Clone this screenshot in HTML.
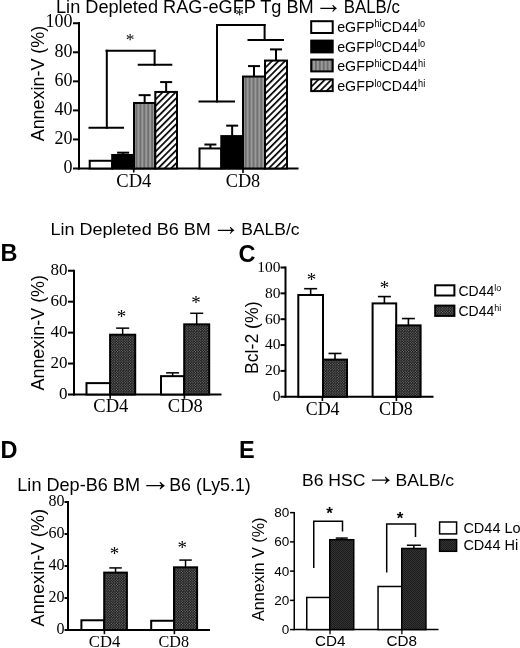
<!DOCTYPE html>
<html lang="en"><head><meta charset="utf-8"><title>Figure</title>
<style>
html,body{margin:0;padding:0;background:#fff;}
body{width:520px;height:648px;overflow:hidden;}
svg{display:block;}
.fs{font-family:"Liberation Sans", Arial, Helvetica, sans-serif;}
.ft{font-family:"Liberation Serif", "Times New Roman", Times, serif;}
</style></head><body>
<svg width="520" height="648" viewBox="0 0 520 648">
<defs>
<pattern id="pv" width="3.9" height="4" patternUnits="userSpaceOnUse"><rect width="3.9" height="4" fill="#707070"/><rect x="1.2" width="1.5" height="4" fill="#a6a6a6"/></pattern>
<pattern id="pd" width="4.6" height="4.6" patternUnits="userSpaceOnUse" patternTransform="rotate(-45)"><rect width="4.6" height="4.6" fill="#fff"/><rect width="4.6" height="1.7" fill="#000"/></pattern>
<pattern id="pc" width="2.6" height="2.6" patternUnits="userSpaceOnUse"><rect width="2.6" height="2.6" fill="#0a0a0a"/><circle cx="0.65" cy="0.65" r="0.58" fill="#a0a0a0"/><circle cx="1.95" cy="1.95" r="0.58" fill="#a0a0a0"/></pattern>
<pattern id="pe" width="2" height="2" patternUnits="userSpaceOnUse"><rect width="2" height="2" fill="#333"/><rect width="1" height="1" fill="#1c1c1c"/><rect x="1" y="1" width="1" height="1" fill="#1c1c1c"/></pattern>
</defs>
<rect width="520" height="648" fill="#fff"/>
<text class="fs" x="56.00" y="13.00" font-size="17.5" textLength="257.75" lengthAdjust="spacingAndGlyphs" fill="#000">Lin Depleted RAG-eGFP Tg BM</text>
<text class="fs" x="314.81" y="13.13" font-size="27.9" fill="#000">→</text>
<text class="fs" x="343.75" y="13.00" font-size="17.5" textLength="56.25" lengthAdjust="spacingAndGlyphs" fill="#000">BALB/c</text>
<line x1="79.00" y1="22.00" x2="79.00" y2="169.50" stroke="#000" stroke-width="2" stroke-linecap="butt"/>
<line x1="78.00" y1="168.50" x2="298.50" y2="168.50" stroke="#000" stroke-width="2" stroke-linecap="butt"/>
<line x1="73.00" y1="23.25" x2="79.00" y2="23.25" stroke="#000" stroke-width="2" stroke-linecap="butt"/>
<text class="ft" x="72.50" y="27.45" font-size="18" text-anchor="end" fill="#000">100</text>
<line x1="73.00" y1="52.30" x2="79.00" y2="52.30" stroke="#000" stroke-width="2" stroke-linecap="butt"/>
<text class="ft" x="72.50" y="56.50" font-size="18" text-anchor="end" fill="#000">80</text>
<line x1="73.00" y1="81.35" x2="79.00" y2="81.35" stroke="#000" stroke-width="2" stroke-linecap="butt"/>
<text class="ft" x="72.50" y="85.55" font-size="18" text-anchor="end" fill="#000">60</text>
<line x1="73.00" y1="110.40" x2="79.00" y2="110.40" stroke="#000" stroke-width="2" stroke-linecap="butt"/>
<text class="ft" x="72.50" y="114.60" font-size="18" text-anchor="end" fill="#000">40</text>
<line x1="73.00" y1="139.45" x2="79.00" y2="139.45" stroke="#000" stroke-width="2" stroke-linecap="butt"/>
<text class="ft" x="72.50" y="143.65" font-size="18" text-anchor="end" fill="#000">20</text>
<line x1="73.00" y1="168.50" x2="79.00" y2="168.50" stroke="#000" stroke-width="2" stroke-linecap="butt"/>
<text class="ft" x="72.50" y="172.70" font-size="18" text-anchor="end" fill="#000">0</text>
<text class="fs" x="43.80" y="141.30" font-size="18.5" transform="rotate(-90 43.80 141.30)" textLength="115.50" lengthAdjust="spacingAndGlyphs" fill="#000">Annexin-V (%)</text>
<line x1="123.10" y1="154.97" x2="123.10" y2="152.67" stroke="#000" stroke-width="2" stroke-linecap="butt"/>
<line x1="117.10" y1="152.67" x2="129.10" y2="152.67" stroke="#000" stroke-width="2" stroke-linecap="butt"/>
<line x1="144.65" y1="102.98" x2="144.65" y2="95.15" stroke="#000" stroke-width="2" stroke-linecap="butt"/>
<line x1="138.65" y1="95.15" x2="150.65" y2="95.15" stroke="#000" stroke-width="2" stroke-linecap="butt"/>
<line x1="166.15" y1="91.94" x2="166.15" y2="82.08" stroke="#000" stroke-width="2" stroke-linecap="butt"/>
<line x1="160.15" y1="82.08" x2="172.15" y2="82.08" stroke="#000" stroke-width="2" stroke-linecap="butt"/>
<rect x="89.70" y="160.78" width="22.50" height="7.72" fill="#fff" stroke="#000" stroke-width="2"/>
<rect x="112.20" y="154.97" width="21.80" height="13.53" fill="#000" stroke="#000" stroke-width="2"/>
<rect x="134.00" y="102.98" width="21.30" height="65.52" fill="url(#pv)" stroke="#000" stroke-width="2"/>
<rect x="155.30" y="91.94" width="21.70" height="76.56" fill="url(#pd)" stroke="#000" stroke-width="2"/>
<line x1="210.40" y1="148.44" x2="210.40" y2="144.53" stroke="#000" stroke-width="2" stroke-linecap="butt"/>
<line x1="204.40" y1="144.53" x2="216.40" y2="144.53" stroke="#000" stroke-width="2" stroke-linecap="butt"/>
<line x1="232.15" y1="136.09" x2="232.15" y2="125.65" stroke="#000" stroke-width="2" stroke-linecap="butt"/>
<line x1="226.15" y1="125.65" x2="238.15" y2="125.65" stroke="#000" stroke-width="2" stroke-linecap="butt"/>
<line x1="254.00" y1="76.54" x2="254.00" y2="66.10" stroke="#000" stroke-width="2" stroke-linecap="butt"/>
<line x1="248.00" y1="66.10" x2="260.00" y2="66.10" stroke="#000" stroke-width="2" stroke-linecap="butt"/>
<line x1="276.00" y1="60.56" x2="276.00" y2="49.40" stroke="#000" stroke-width="2" stroke-linecap="butt"/>
<line x1="270.00" y1="49.40" x2="282.00" y2="49.40" stroke="#000" stroke-width="2" stroke-linecap="butt"/>
<rect x="199.50" y="148.44" width="21.80" height="20.06" fill="#fff" stroke="#000" stroke-width="2"/>
<rect x="221.30" y="136.09" width="21.70" height="32.41" fill="#000" stroke="#000" stroke-width="2"/>
<rect x="243.00" y="76.54" width="22.00" height="91.96" fill="url(#pv)" stroke="#000" stroke-width="2"/>
<rect x="265.00" y="60.56" width="22.00" height="107.94" fill="url(#pd)" stroke="#000" stroke-width="2"/>
<line x1="88.50" y1="127.80" x2="124.00" y2="127.80" stroke="#000" stroke-width="2" stroke-linecap="butt"/>
<line x1="106.80" y1="128.80" x2="106.80" y2="49.80" stroke="#000" stroke-width="2" stroke-linecap="butt"/>
<line x1="133.70" y1="169.00" x2="133.70" y2="172.50" stroke="#000" stroke-width="1.6" stroke-linecap="butt"/>
<line x1="243.00" y1="169.00" x2="243.00" y2="173.00" stroke="#000" stroke-width="1.6" stroke-linecap="butt"/>
<line x1="105.50" y1="50.80" x2="155.60" y2="50.80" stroke="#000" stroke-width="2" stroke-linecap="butt"/>
<line x1="154.60" y1="49.80" x2="154.60" y2="65.80" stroke="#000" stroke-width="2" stroke-linecap="butt"/>
<line x1="137.70" y1="64.80" x2="172.30" y2="64.80" stroke="#000" stroke-width="2" stroke-linecap="butt"/>
<text class="ft" x="130.00" y="45.45" font-size="17.5" text-anchor="middle" fill="#000">*</text>
<line x1="198.50" y1="101.50" x2="235.00" y2="101.50" stroke="#000" stroke-width="2" stroke-linecap="butt"/>
<line x1="217.00" y1="102.50" x2="217.00" y2="24.00" stroke="#000" stroke-width="2" stroke-linecap="butt"/>
<line x1="216.00" y1="25.00" x2="265.60" y2="25.00" stroke="#000" stroke-width="2" stroke-linecap="butt"/>
<line x1="264.60" y1="24.00" x2="264.60" y2="41.00" stroke="#000" stroke-width="2" stroke-linecap="butt"/>
<line x1="247.50" y1="40.00" x2="284.00" y2="40.00" stroke="#000" stroke-width="2" stroke-linecap="butt"/>
<text class="ft" x="239.50" y="19.75" font-size="17.5" text-anchor="middle" fill="#000">*</text>
<text class="ft" x="116.30" y="186.80" font-size="18" textLength="35.00" lengthAdjust="spacingAndGlyphs" fill="#000">CD4</text>
<text class="ft" x="225.75" y="186.80" font-size="18" textLength="34.50" lengthAdjust="spacingAndGlyphs" fill="#000">CD8</text>
<rect x="311.2" y="21.20" width="21.5" height="11.8" fill="#fff" stroke="#000" stroke-width="2"/>
<text class="fs" x="337.20" y="32.10" font-size="15.5" textLength="88.00" lengthAdjust="spacingAndGlyphs" fill="#000">eGFP<tspan font-size="10" dy="-4.6">hi</tspan><tspan dy="4.6">CD44</tspan><tspan font-size="10" dy="-4.6">lo</tspan></text>
<rect x="311.2" y="40.60" width="21.5" height="11.8" fill="#000" stroke="#000" stroke-width="2"/>
<text class="fs" x="337.20" y="51.70" font-size="15.5" textLength="88.00" lengthAdjust="spacingAndGlyphs" fill="#000">eGFP<tspan font-size="10" dy="-4.6">lo</tspan><tspan dy="4.6">CD44</tspan><tspan font-size="10" dy="-4.6">lo</tspan></text>
<rect x="311.2" y="59.60" width="21.5" height="11.8" fill="url(#pv)" stroke="#000" stroke-width="2"/>
<text class="fs" x="337.20" y="71.40" font-size="15.5" textLength="88.00" lengthAdjust="spacingAndGlyphs" fill="#000">eGFP<tspan font-size="10" dy="-4.6">hi</tspan><tspan dy="4.6">CD44</tspan><tspan font-size="10" dy="-4.6">hi</tspan></text>
<rect x="311.2" y="79.30" width="21.5" height="11.8" fill="url(#pd)" stroke="#000" stroke-width="2"/>
<text class="fs" x="337.20" y="91.20" font-size="15.5" textLength="88.00" lengthAdjust="spacingAndGlyphs" fill="#000">eGFP<tspan font-size="10" dy="-4.6">lo</tspan><tspan dy="4.6">CD44</tspan><tspan font-size="10" dy="-4.6">hi</tspan></text>
<text class="fs" x="50.50" y="234.50" font-size="16.5" textLength="160.25" lengthAdjust="spacingAndGlyphs" fill="#000">Lin Depleted B6 BM</text>
<text class="fs" x="212.31" y="234.63" font-size="27.9" fill="#000">→</text>
<text class="fs" x="241.30" y="234.50" font-size="16.5" textLength="58.20" lengthAdjust="spacingAndGlyphs" fill="#000">BALB/c</text>
<text class="fs" x="0.50" y="261.00" font-size="23.5" font-weight="bold" fill="#000">B</text>
<line x1="74.00" y1="269.75" x2="74.00" y2="395.50" stroke="#000" stroke-width="2" stroke-linecap="butt"/>
<line x1="73.00" y1="394.50" x2="221.50" y2="394.50" stroke="#000" stroke-width="2" stroke-linecap="butt"/>
<line x1="68.00" y1="270.75" x2="74.00" y2="270.75" stroke="#000" stroke-width="2" stroke-linecap="butt"/>
<text class="ft" x="67.50" y="275.35" font-size="17" text-anchor="end" fill="#000">80</text>
<line x1="68.00" y1="301.69" x2="74.00" y2="301.69" stroke="#000" stroke-width="2" stroke-linecap="butt"/>
<text class="ft" x="67.50" y="306.29" font-size="17" text-anchor="end" fill="#000">60</text>
<line x1="68.00" y1="332.62" x2="74.00" y2="332.62" stroke="#000" stroke-width="2" stroke-linecap="butt"/>
<text class="ft" x="67.50" y="337.22" font-size="17" text-anchor="end" fill="#000">40</text>
<line x1="68.00" y1="363.56" x2="74.00" y2="363.56" stroke="#000" stroke-width="2" stroke-linecap="butt"/>
<text class="ft" x="67.50" y="368.16" font-size="17" text-anchor="end" fill="#000">20</text>
<line x1="68.00" y1="394.50" x2="74.00" y2="394.50" stroke="#000" stroke-width="2" stroke-linecap="butt"/>
<text class="ft" x="67.50" y="399.10" font-size="17" text-anchor="end" fill="#000">0</text>
<text class="fs" x="44.30" y="390.50" font-size="18" transform="rotate(-90 44.30 390.50)" textLength="115.50" lengthAdjust="spacingAndGlyphs" fill="#000">Annexin-V (%)</text>
<line x1="110.20" y1="395.00" x2="110.20" y2="398.80" stroke="#000" stroke-width="1.6" stroke-linecap="butt"/>
<line x1="184.40" y1="395.00" x2="184.40" y2="398.80" stroke="#000" stroke-width="1.6" stroke-linecap="butt"/>
<line x1="122.65" y1="334.71" x2="122.65" y2="328.14" stroke="#000" stroke-width="1.5" stroke-linecap="butt"/>
<line x1="116.15" y1="328.14" x2="129.15" y2="328.14" stroke="#000" stroke-width="1.5" stroke-linecap="butt"/>
<rect x="86.50" y="383.12" width="23.60" height="11.38" fill="#fff" stroke="#000" stroke-width="2"/>
<rect x="110.10" y="334.71" width="25.10" height="59.79" fill="url(#pc)" stroke="#000" stroke-width="2"/>
<line x1="172.60" y1="376.16" x2="172.60" y2="372.84" stroke="#000" stroke-width="1.5" stroke-linecap="butt"/>
<line x1="166.10" y1="372.84" x2="179.10" y2="372.84" stroke="#000" stroke-width="1.5" stroke-linecap="butt"/>
<line x1="196.70" y1="324.34" x2="196.70" y2="313.29" stroke="#000" stroke-width="1.5" stroke-linecap="butt"/>
<line x1="190.20" y1="313.29" x2="203.20" y2="313.29" stroke="#000" stroke-width="1.5" stroke-linecap="butt"/>
<rect x="161.00" y="376.16" width="23.20" height="18.34" fill="#fff" stroke="#000" stroke-width="2"/>
<rect x="184.20" y="324.34" width="25.00" height="70.16" fill="url(#pc)" stroke="#000" stroke-width="2"/>
<text class="ft" x="121.60" y="323.16" font-size="19" text-anchor="middle" fill="#000">*</text>
<text class="ft" x="196.10" y="309.26" font-size="19" text-anchor="middle" fill="#000">*</text>
<text class="ft" x="93.30" y="412.20" font-size="18.5" textLength="35.00" lengthAdjust="spacingAndGlyphs" fill="#000">CD4</text>
<text class="ft" x="167.80" y="412.20" font-size="18.5" textLength="35.00" lengthAdjust="spacingAndGlyphs" fill="#000">CD8</text>
<text class="fs" x="238.50" y="261.50" font-size="23.5" font-weight="bold" fill="#000">C</text>
<line x1="285.50" y1="266.50" x2="285.50" y2="397.75" stroke="#000" stroke-width="2" stroke-linecap="butt"/>
<line x1="284.50" y1="396.75" x2="433.50" y2="396.75" stroke="#000" stroke-width="2" stroke-linecap="butt"/>
<line x1="280.50" y1="267.50" x2="285.50" y2="267.50" stroke="#000" stroke-width="2" stroke-linecap="butt"/>
<text class="ft" x="280.50" y="271.80" font-size="15.5" text-anchor="end" fill="#000">100</text>
<line x1="280.50" y1="293.35" x2="285.50" y2="293.35" stroke="#000" stroke-width="2" stroke-linecap="butt"/>
<text class="ft" x="280.50" y="297.65" font-size="15.5" text-anchor="end" fill="#000">80</text>
<line x1="280.50" y1="319.20" x2="285.50" y2="319.20" stroke="#000" stroke-width="2" stroke-linecap="butt"/>
<text class="ft" x="280.50" y="323.50" font-size="15.5" text-anchor="end" fill="#000">60</text>
<line x1="280.50" y1="345.05" x2="285.50" y2="345.05" stroke="#000" stroke-width="2" stroke-linecap="butt"/>
<text class="ft" x="280.50" y="349.35" font-size="15.5" text-anchor="end" fill="#000">40</text>
<line x1="280.50" y1="370.90" x2="285.50" y2="370.90" stroke="#000" stroke-width="2" stroke-linecap="butt"/>
<text class="ft" x="280.50" y="375.20" font-size="15.5" text-anchor="end" fill="#000">20</text>
<line x1="280.50" y1="396.75" x2="285.50" y2="396.75" stroke="#000" stroke-width="2" stroke-linecap="butt"/>
<text class="ft" x="280.50" y="401.05" font-size="15.5" text-anchor="end" fill="#000">0</text>
<text class="fs" x="258.20" y="374.00" font-size="18" transform="rotate(-90 258.20 374.00)" textLength="72.60" lengthAdjust="spacingAndGlyphs" fill="#000">Bcl-2 (%)</text>
<line x1="322.40" y1="397.00" x2="322.40" y2="401.00" stroke="#000" stroke-width="1.6" stroke-linecap="butt"/>
<line x1="396.40" y1="397.00" x2="396.40" y2="401.00" stroke="#000" stroke-width="1.6" stroke-linecap="butt"/>
<line x1="310.65" y1="295.00" x2="310.65" y2="288.70" stroke="#000" stroke-width="1.6" stroke-linecap="butt"/>
<line x1="304.15" y1="288.70" x2="317.15" y2="288.70" stroke="#000" stroke-width="1.6" stroke-linecap="butt"/>
<line x1="335.00" y1="359.62" x2="335.00" y2="353.45" stroke="#000" stroke-width="1.6" stroke-linecap="butt"/>
<line x1="328.50" y1="353.45" x2="341.50" y2="353.45" stroke="#000" stroke-width="1.6" stroke-linecap="butt"/>
<rect x="298.30" y="295.00" width="24.70" height="101.75" fill="#fff" stroke="#000" stroke-width="2"/>
<rect x="323.00" y="359.62" width="24.00" height="37.13" fill="url(#pc)" stroke="#000" stroke-width="2"/>
<line x1="384.40" y1="303.40" x2="384.40" y2="296.58" stroke="#000" stroke-width="1.6" stroke-linecap="butt"/>
<line x1="377.90" y1="296.58" x2="390.90" y2="296.58" stroke="#000" stroke-width="1.6" stroke-linecap="butt"/>
<line x1="408.40" y1="325.37" x2="408.40" y2="318.55" stroke="#000" stroke-width="1.6" stroke-linecap="butt"/>
<line x1="401.90" y1="318.55" x2="414.90" y2="318.55" stroke="#000" stroke-width="1.6" stroke-linecap="butt"/>
<rect x="372.60" y="303.40" width="23.60" height="93.35" fill="#fff" stroke="#000" stroke-width="2"/>
<rect x="396.20" y="325.37" width="24.40" height="71.38" fill="url(#pc)" stroke="#000" stroke-width="2"/>
<text class="ft" x="311.50" y="285.96" font-size="19" text-anchor="middle" fill="#000">*</text>
<text class="ft" x="384.50" y="294.46" font-size="19" text-anchor="middle" fill="#000">*</text>
<text class="ft" x="305.73" y="414.50" font-size="18" textLength="33.75" lengthAdjust="spacingAndGlyphs" fill="#000">CD4</text>
<text class="ft" x="379.02" y="414.50" font-size="18" textLength="33.75" lengthAdjust="spacingAndGlyphs" fill="#000">CD8</text>
<rect x="435.2" y="285.3" width="19.2" height="10.2" fill="#fff" stroke="#000" stroke-width="2"/>
<rect x="435.2" y="305.6" width="19.2" height="10.3" fill="url(#pc)" stroke="#000" stroke-width="2"/>
<text class="fs" x="458.50" y="295.80" font-size="14" fill="#000">CD44<tspan font-size="9" dy="-4.8">lo</tspan></text>
<text class="fs" x="458.50" y="315.50" font-size="14" fill="#000">CD44<tspan font-size="9" dy="-4.8">hi</tspan></text>
<text class="fs" x="0.50" y="457.50" font-size="23.5" font-weight="bold" fill="#000">D</text>
<text class="fs" x="17.30" y="490.60" font-size="17.7" textLength="122.70" lengthAdjust="spacingAndGlyphs" fill="#000">Lin Dep-B6 BM</text>
<text class="fs" x="139.86" y="490.66" font-size="31.1" fill="#000">→</text>
<text class="fs" x="169.20" y="490.60" font-size="17.7" textLength="81.60" lengthAdjust="spacingAndGlyphs" fill="#000">B6 (Ly5.1)</text>
<line x1="68.00" y1="501.00" x2="68.00" y2="631.00" stroke="#000" stroke-width="2" stroke-linecap="butt"/>
<line x1="67.00" y1="630.00" x2="210.00" y2="630.00" stroke="#000" stroke-width="2" stroke-linecap="butt"/>
<line x1="64.50" y1="502.00" x2="68.00" y2="502.00" stroke="#000" stroke-width="2" stroke-linecap="butt"/>
<text class="ft" x="64.50" y="506.40" font-size="16" text-anchor="end" fill="#000">80</text>
<line x1="64.50" y1="534.00" x2="68.00" y2="534.00" stroke="#000" stroke-width="2" stroke-linecap="butt"/>
<text class="ft" x="64.50" y="538.40" font-size="16" text-anchor="end" fill="#000">60</text>
<line x1="64.50" y1="566.00" x2="68.00" y2="566.00" stroke="#000" stroke-width="2" stroke-linecap="butt"/>
<text class="ft" x="64.50" y="570.40" font-size="16" text-anchor="end" fill="#000">40</text>
<line x1="64.50" y1="598.00" x2="68.00" y2="598.00" stroke="#000" stroke-width="2" stroke-linecap="butt"/>
<text class="ft" x="64.50" y="602.40" font-size="16" text-anchor="end" fill="#000">20</text>
<line x1="64.50" y1="630.00" x2="68.00" y2="630.00" stroke="#000" stroke-width="2" stroke-linecap="butt"/>
<text class="ft" x="64.50" y="634.40" font-size="16" text-anchor="end" fill="#000">0</text>
<text class="fs" x="44.20" y="626.50" font-size="18" transform="rotate(-90 44.20 626.50)" textLength="117.50" lengthAdjust="spacingAndGlyphs" fill="#000">Annexin-V (%)</text>
<line x1="104.40" y1="630.00" x2="104.40" y2="634.20" stroke="#000" stroke-width="1.6" stroke-linecap="butt"/>
<line x1="174.40" y1="630.00" x2="174.40" y2="634.20" stroke="#000" stroke-width="1.6" stroke-linecap="butt"/>
<line x1="115.55" y1="572.60" x2="115.55" y2="567.92" stroke="#000" stroke-width="1.5" stroke-linecap="butt"/>
<line x1="109.30" y1="567.92" x2="121.80" y2="567.92" stroke="#000" stroke-width="1.5" stroke-linecap="butt"/>
<rect x="81.40" y="620.28" width="22.80" height="9.72" fill="#fff" stroke="#000" stroke-width="2"/>
<rect x="104.20" y="572.60" width="22.70" height="57.40" fill="url(#pc)" stroke="#000" stroke-width="2"/>
<line x1="185.55" y1="567.32" x2="185.55" y2="560.08" stroke="#000" stroke-width="1.5" stroke-linecap="butt"/>
<line x1="179.30" y1="560.08" x2="191.80" y2="560.08" stroke="#000" stroke-width="1.5" stroke-linecap="butt"/>
<rect x="151.20" y="620.76" width="22.80" height="9.24" fill="#fff" stroke="#000" stroke-width="2"/>
<rect x="174.00" y="567.32" width="23.10" height="62.68" fill="url(#pc)" stroke="#000" stroke-width="2"/>
<text class="ft" x="114.50" y="560.46" font-size="19" text-anchor="middle" fill="#000">*</text>
<text class="ft" x="182.30" y="554.16" font-size="19" text-anchor="middle" fill="#000">*</text>
<text class="ft" x="88.85" y="646.60" font-size="17" textLength="31.50" lengthAdjust="spacingAndGlyphs" fill="#000">CD4</text>
<text class="ft" x="158.55" y="646.60" font-size="17" textLength="30.50" lengthAdjust="spacingAndGlyphs" fill="#000">CD8</text>
<text class="fs" x="239.00" y="457.50" font-size="23.5" font-weight="bold" fill="#000">E</text>
<text class="fs" x="302.00" y="485.70" font-size="16" textLength="63.30" lengthAdjust="spacingAndGlyphs" fill="#000">B6 HSC</text>
<text class="fs" x="365.87" y="485.19" font-size="30.1" fill="#000">→</text>
<text class="fs" x="395.40" y="485.70" font-size="16" textLength="58.80" lengthAdjust="spacingAndGlyphs" fill="#000">BALB/c</text>
<line x1="294.25" y1="511.89" x2="294.25" y2="630.35" stroke="#000" stroke-width="1.5" stroke-linecap="butt"/>
<line x1="293.50" y1="629.60" x2="438.50" y2="629.60" stroke="#000" stroke-width="1.5" stroke-linecap="butt"/>
<line x1="290.05" y1="512.64" x2="294.25" y2="512.64" stroke="#000" stroke-width="1.5" stroke-linecap="butt"/>
<text class="fs" x="289.25" y="517.14" font-size="13.5" text-anchor="end" fill="#000">80</text>
<line x1="290.05" y1="541.88" x2="294.25" y2="541.88" stroke="#000" stroke-width="1.5" stroke-linecap="butt"/>
<text class="fs" x="289.25" y="546.38" font-size="13.5" text-anchor="end" fill="#000">60</text>
<line x1="290.05" y1="571.12" x2="294.25" y2="571.12" stroke="#000" stroke-width="1.5" stroke-linecap="butt"/>
<text class="fs" x="289.25" y="575.62" font-size="13.5" text-anchor="end" fill="#000">40</text>
<line x1="290.05" y1="600.36" x2="294.25" y2="600.36" stroke="#000" stroke-width="1.5" stroke-linecap="butt"/>
<text class="fs" x="289.25" y="604.86" font-size="13.5" text-anchor="end" fill="#000">20</text>
<line x1="290.05" y1="629.60" x2="294.25" y2="629.60" stroke="#000" stroke-width="1.5" stroke-linecap="butt"/>
<text class="fs" x="289.25" y="634.10" font-size="13.5" text-anchor="end" fill="#000">0</text>
<text class="fs" x="264.20" y="621.00" font-size="16" transform="rotate(-90 264.20 621.00)" textLength="103.50" lengthAdjust="spacingAndGlyphs" fill="#000">Annexin V (%)</text>
<line x1="330.00" y1="629.50" x2="330.00" y2="634.20" stroke="#000" stroke-width="1.3" stroke-linecap="butt"/>
<line x1="401.90" y1="629.50" x2="401.90" y2="634.20" stroke="#000" stroke-width="1.3" stroke-linecap="butt"/>
<line x1="341.75" y1="539.96" x2="341.75" y2="538.08" stroke="#000" stroke-width="1.5" stroke-linecap="butt"/>
<line x1="335.75" y1="538.08" x2="347.75" y2="538.08" stroke="#000" stroke-width="1.5" stroke-linecap="butt"/>
<rect x="306.75" y="597.46" width="23.00" height="32.14" fill="#fff" stroke="#000" stroke-width="1.5"/>
<rect x="329.75" y="539.71" width="24.00" height="89.89" fill="url(#pe)" stroke="#000" stroke-width="1.5"/>
<line x1="413.85" y1="548.73" x2="413.85" y2="545.24" stroke="#000" stroke-width="1.5" stroke-linecap="butt"/>
<line x1="406.85" y1="545.24" x2="420.85" y2="545.24" stroke="#000" stroke-width="1.5" stroke-linecap="butt"/>
<rect x="378.05" y="586.49" width="23.70" height="43.11" fill="#fff" stroke="#000" stroke-width="1.5"/>
<rect x="401.75" y="548.48" width="24.20" height="81.12" fill="url(#pe)" stroke="#000" stroke-width="1.5"/>
<polyline points="313.75,568 313.75,521.25 342.5,521.25 342.5,531.5" fill="none" stroke="#000" stroke-width="1.5"/>
<polyline points="386.7,572.5 386.7,524 415.5,524 415.5,537" fill="none" stroke="#000" stroke-width="1.5"/>
<text class="fs" x="329.50" y="519.03" font-size="17" text-anchor="middle" font-weight="bold" fill="#000">*</text>
<text class="fs" x="400.00" y="523.93" font-size="17" text-anchor="middle" font-weight="bold" fill="#000">*</text>
<text class="fs" x="314.95" y="646.20" font-size="15.5" textLength="30.50" lengthAdjust="spacingAndGlyphs" fill="#000">CD4</text>
<text class="fs" x="386.55" y="646.20" font-size="15.5" textLength="30.50" lengthAdjust="spacingAndGlyphs" fill="#000">CD8</text>
<rect x="439.6" y="522" width="17" height="11.9" fill="#fff" stroke="#000" stroke-width="1.5"/>
<rect x="439.6" y="539.6" width="17" height="11.7" fill="url(#pe)" stroke="#000" stroke-width="1.5"/>
<text class="fs" x="463.40" y="532.90" font-size="14.5" fill="#000">CD44 Lo</text>
<text class="fs" x="463.40" y="549.90" font-size="14.5" fill="#000">CD44 Hi</text>
</svg>
</body></html>
